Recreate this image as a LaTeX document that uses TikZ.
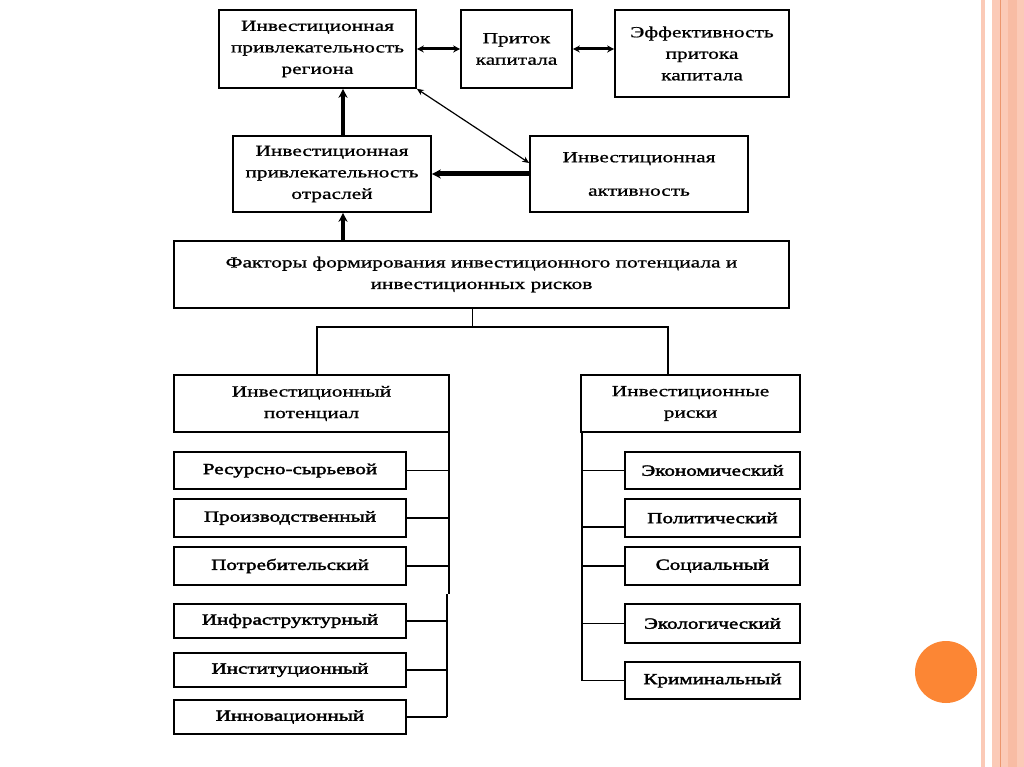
\documentclass[tikz,border=0pt]{standalone}
\usepackage{fontspec}
\setmainfont{Liberation Serif}[FakeStretch=1.38]
\newfontfamily\texteblocs{Liberation Serif}[FakeStretch=1.38,FakeBold=0.9]
\newfontfamily\textefeuilles{Liberation Serif}[FakeStretch=1.36,FakeBold=2.2]
\usetikzlibrary{arrows.meta}
\definecolor{rayure}{RGB}{251,202,183}
\definecolor{rayurefonce}{RGB}{248,188,164}
\definecolor{filet}{RGB}{236,150,110}
\definecolor{pastille}{RGB}{252,134,52}

\begin{document}
\begin{tikzpicture}[x=1pt,y=-1pt]
\tikzstyle{lien}=[{Stealth[length=7pt,width=7pt]}-{Stealth[length=7pt,width=7pt]},line width=3pt]
\tikzstyle{lienfin}=[{Stealth[length=7pt,width=6pt]}-{Stealth[length=7pt,width=6pt]},line width=1.2pt]
\tikzstyle{fleche}=[-{Stealth[length=9pt,width=9pt]},line width=4pt]
\tikzset{bloc/.style 2 args={draw,line width=1.6pt,minimum width=#1pt,minimum height=#2pt,inner sep=0pt,align=center,font=\texteblocs\fontsize{15.5}{21.5}\selectfont},
feuille/.style 2 args={bloc={#1}{#2},font=\textefeuilles\fontsize{15.5}{19}\selectfont}}
\useasboundingbox (0,0) rectangle (1024,767);
\fill[white] (0,0) rectangle (1024,767);
\fill[rayure] (981,0) rectangle (985,767);
\fill[rayure] (992,0) rectangle (1024,767);
\fill[rayurefonce] (1008,0) rectangle (1017,767);
\draw[filet,line width=1pt] (1000,0) -- (1000,767);
\fill[pastille] (946,672) circle (31pt);

\node[bloc={197}{78}] (region) at (317.5,49) {Инвестиционная\\привлекательность\\региона};
\node[bloc={111}{78}] (flux) at (516.5,49) {Приток\\капитала};
\node[bloc={174}{87}] (effet) at (702,53.5) {Эффективность\\притока\\капитала};
\node[bloc={198}{76}] (branches) at (332,174) {Инвестиционная\\привлекательность\\отраслей};
\node[bloc={218}{76}] (activite) at (639,174) {Инвестиционная\\[12pt]активность};
\node[bloc={615}{67}] (facteurs) at (481.5,274.5) {Факторы формирования инвестиционного потенциала и\\инвестиционных рисков};
\node[bloc={275}{57}] (potentiel) at (311.5,403.5) {Инвестиционный\\потенциал};
\node[bloc={219}{57}] (risques) at (690.5,403.5) {Инвестиционные\\риски};

\foreach \nom/\y/\h/\texte in {p1/470.5/37/Ресурсно-сырьевой,p2/518/38/Производственный,p3/566/38/Потребительский,p4/621/34/Инфраструктурный,p5/670/34/Институционный,p6/717/34/Инновационный}
  \node[feuille={232}{\h}] (\nom) at (290,\y) {\texte};
\foreach \nom/\y/\h/\texte in {r1/470.5/37/Экономический,r2/518/38/Политический,r3/566/38/Социальный,r4/623.5/39/Экологический,r5/680.5/37/Криминальный}
  \node[feuille={175}{\h}] (\nom) at (712.5,\y) {\texte};

\coordinate (axe) at (343,0);
\coordinate (noeud) at (472,327);
\coordinate (gauche) at (317,327);
\coordinate (droite) at (668,327);
\coordinate (busHaut) at (449,594);
\coordinate (busBas) at (447,717);
\coordinate (busD) at (582,681);

\draw[lien] (region.east) -- (flux.west);
\draw[lien] (flux.east) -- (flux.east -| effet.west);
\draw[fleche] (axe |- branches.north) -- (axe |- region.south);
\draw[fleche] (axe |- facteurs.north) -- (axe |- branches.south);
\draw[fleche,line width=5pt] (activite.west) -- (branches.east);
\draw[lienfin] ([yshift=11pt]activite.west) -- (region.south east);

\draw[line width=1pt] (noeud |- facteurs.south) -- (noeud);
\draw[line width=2.2pt] (gauche |- potentiel.north) -- (gauche) -- (droite) -- (droite |- risques.north);

\draw[line width=1.5pt] (busHaut |- potentiel.south) -- (busHaut);
\draw[line width=2.5pt] (busBas |- busHaut) -- (busBas);
\draw[line width=1pt] (p1.east) -- (p1.east -| busHaut);
\draw[line width=1.6pt] (p2.east) -- (p2.east -| busHaut);
\draw[line width=1.6pt] (p3.east) -- (p3.east -| busHaut);
\draw[line width=2pt] (p4.east) -- (p4.east -| busBas);
\draw[line width=2pt] (p5.east) -- (p5.east -| busBas);
\draw[line width=2pt] (p6.east) -- (p6.east -| busBas);

\draw[line width=1.8pt] (busD |- risques.south) -- (busD);
\draw[line width=1pt] (r1.west) -- (r1.west -| busD);
\draw[line width=1.6pt] ([yshift=-9pt]r2.west) -- ([yshift=-9pt]r2.west -| busD);
\draw[line width=1.6pt] (r3.west) -- (r3.west -| busD);
\draw[line width=1.6pt] (r4.west) -- (r4.west -| busD);
\draw[line width=1.6pt] (r5.west) -- (r5.west -| busD);

\end{tikzpicture}
\end{document}
